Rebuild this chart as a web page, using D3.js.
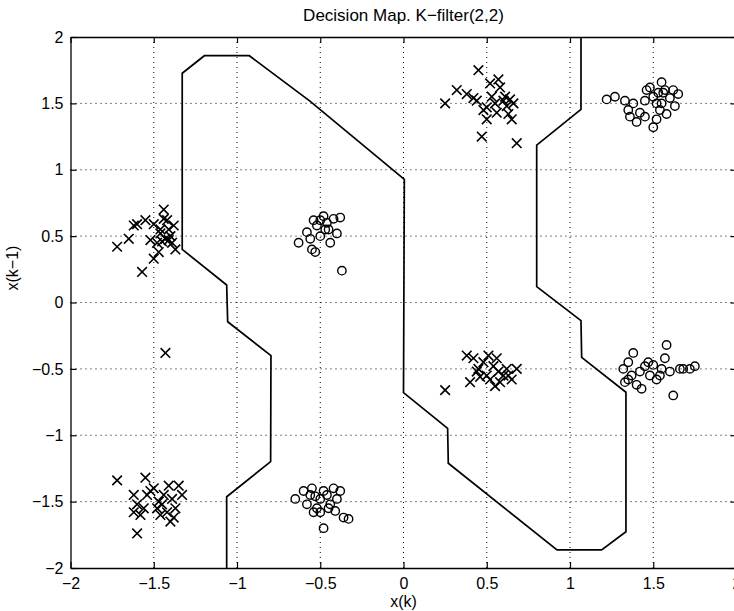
<!DOCTYPE html>
<html>
<head>
<meta charset="utf-8">
<script src="https://cdn.jsdelivr.net/npm/d3@7"></script>
<style>
  body { margin: 0; background: #fff; }
  svg { font-family: "Liberation Sans", Arial, sans-serif; }
  .grid line { stroke: #000; stroke-dasharray: 1,4; stroke-width: 1; }
</style>
</head>
<body>
<div id="chart"></div>
<script>
var width = 734,
    height = 611;

// axis setup
var xTicks = [-2, -1.5, -1, -0.5, 0, 0.5, 1, 1.5, 2];
var yTicks = [-2, -1.5, -1, -0.5, 0, 0.5, 1, 1.5, 2];

// decision boundary polyline [x(k), x(k-1)]
var boundary = [
  [-1.062, -2], [-1.062, -1.463], [-0.798, -1.199], [-0.796, -0.40],
  [-1.056, -0.145], [-1.062, 0.132], [-1.329, 0.40], [-1.329, 1.727],
  [-1.196, 1.859], [-0.926, 1.859], [-0.56, 1.515], [0.005, 0.928],
  [0.0, -0.679], [0.265, -0.948], [0.269, -1.211], [0.922, -1.864],
  [1.19, -1.864], [1.336, -1.727], [1.336, -0.676], [1.070, -0.413],
  [1.066, -0.137], [0.80, 0.119], [0.80, 1.186], [1.066, 1.455], [1.066, 2]
];

// class 1 samples (x markers)
var crosses = [
  [-1.72,0.42],[-1.65,0.48],[-1.62,0.58],[-1.60,0.59],[-1.55,0.62],[-1.52,0.47],[-1.50,0.59],
  [-1.48,0.45],[-1.46,0.52],[-1.44,0.70],[-1.43,0.48],[-1.42,0.62],[-1.41,0.55],[-1.40,0.50],
  [-1.39,0.45],[-1.38,0.58],[-1.45,0.46],[-1.47,0.38],[-1.50,0.33],[-1.57,0.23],[-1.37,0.40],
  [-1.44,0.63],[-1.46,0.55],[-1.41,0.47],[-1.43,-0.38],
  [-1.72,-1.34],[-1.62,-1.45],[-1.60,-1.52],[-1.58,-1.60],[-1.55,-1.32],[-1.54,-1.45],[-1.52,-1.42],
  [-1.50,-1.40],[-1.48,-1.55],[-1.47,-1.50],[-1.45,-1.52],[-1.44,-1.45],[-1.42,-1.58],[-1.40,-1.65],
  [-1.38,-1.62],[-1.37,-1.55],[-1.35,-1.38],[-1.33,-1.45],[-1.60,-1.74],[-1.56,-1.55],[-1.62,-1.58],
  [-1.41,-1.38],[-1.46,-1.60],[-1.39,-1.48],
  [0.25,1.50],[0.32,1.60],[0.38,1.57],[0.42,1.54],[0.45,1.75],[0.48,1.45],[0.50,1.38],[0.52,1.65],
  [0.55,1.50],[0.58,1.62],[0.60,1.52],[0.62,1.48],[0.63,1.42],[0.65,1.38],[0.66,1.50],[0.68,1.20],
  [0.47,1.25],[0.56,1.43],[0.53,1.55],[0.57,1.68],[0.61,1.55],[0.64,1.53],[0.44,1.52],[0.50,1.47],
  [0.25,-0.66],[0.38,-0.40],[0.42,-0.42],[0.45,-0.50],[0.48,-0.45],[0.50,-0.55],[0.52,-0.58],
  [0.54,-0.48],[0.56,-0.42],[0.58,-0.60],[0.60,-0.55],[0.62,-0.50],[0.65,-0.58],[0.68,-0.50],
  [0.40,-0.60],[0.46,-0.56],[0.55,-0.63],[0.63,-0.55],[0.51,-0.40],[0.44,-0.52],[0.57,-0.52]
];

// class 2 samples (o markers)
var circles = [
  [-0.63,0.45],[-0.58,0.53],[-0.56,0.48],[-0.55,0.40],[-0.53,0.38],[-0.52,0.58],[-0.50,0.62],
  [-0.48,0.65],[-0.46,0.60],[-0.45,0.55],[-0.42,0.63],[-0.40,0.52],[-0.38,0.64],[-0.37,0.24],
  [-0.44,0.45],[-0.54,0.62],[-0.50,0.50],[-0.47,0.55],
  [-0.65,-1.48],[-0.60,-1.42],[-0.58,-1.52],[-0.56,-1.45],[-0.55,-1.40],[-0.52,-1.55],[-0.50,-1.48],
  [-0.48,-1.42],[-0.46,-1.45],[-0.44,-1.52],[-0.42,-1.40],[-0.40,-1.48],[-0.38,-1.42],[-0.36,-1.62],
  [-0.33,-1.63],[-0.48,-1.70],[-0.54,-1.58],[-0.50,-1.58],[-0.45,-1.55],[-0.53,-1.46],[-0.41,-1.57],
  [1.22,1.53],[1.27,1.55],[1.33,1.52],[1.35,1.45],[1.38,1.50],[1.40,1.36],[1.42,1.43],[1.45,1.40],
  [1.46,1.60],[1.48,1.62],[1.50,1.55],[1.52,1.50],[1.54,1.45],[1.55,1.66],[1.56,1.58],[1.58,1.42],
  [1.60,1.54],[1.62,1.60],[1.63,1.48],[1.65,1.57],[1.52,1.38],[1.45,1.52],[1.50,1.32],[1.55,1.50],
  [1.36,1.40],[1.57,1.60],[1.53,1.58],
  [1.32,-0.50],[1.33,-0.60],[1.35,-0.45],[1.37,-0.55],[1.38,-0.38],[1.40,-0.62],[1.42,-0.52],
  [1.45,-0.48],[1.48,-0.55],[1.50,-0.47],[1.52,-0.58],[1.55,-0.50],[1.57,-0.42],[1.58,-0.32],
  [1.60,-0.52],[1.62,-0.70],[1.66,-0.50],[1.68,-0.50],[1.72,-0.50],[1.75,-0.48],[1.43,-0.65],
  [1.54,-0.55],[1.47,-0.45],[1.35,-0.58]
];

var margin = {left: 70.5, right: 736.5, top: 37, bottom: 568};

var svg = d3.select("#chart").append("svg")
    .attr("width", width)
    .attr("height", height);

var x = d3.scaleLinear().domain([-2, 2]).range([margin.left, margin.right]);
var y = d3.scaleLinear().domain([-2, 2]).range([margin.bottom, margin.top]);

// dotted grid
var grid = svg.append("g").attr("class", "grid");
grid.selectAll(".gx").data(xTicks.slice(1, -1)).enter().append("line")
    .attr("x1", d => x(d)).attr("x2", d => x(d))
    .attr("y1", margin.top).attr("y2", margin.bottom);
grid.selectAll(".gy").data(yTicks.slice(1, -1)).enter().append("line")
    .attr("y1", d => y(d)).attr("y2", d => y(d))
    .attr("x1", margin.left).attr("x2", margin.right);

// axes, ticks inward like matlab
var tk = 6;
var fmt = d => String(d).replace("-", "\u2212");
svg.append("g").attr("transform", "translate(0," + margin.bottom + ")")
    .call(d3.axisBottom(x).tickValues(xTicks).tickSizeInner(-tk).tickSizeOuter(0).tickPadding(10)
      .tickFormat(fmt));
svg.append("g").attr("transform", "translate(0," + margin.top + ")")
    .call(d3.axisTop(x).tickValues(xTicks).tickSizeInner(-tk).tickSizeOuter(0).tickFormat(""));
svg.append("g").attr("transform", "translate(" + margin.left + ",0)")
    .call(d3.axisLeft(y).tickValues(yTicks).tickSizeInner(-tk).tickSizeOuter(0).tickPadding(7)
      .tickFormat(fmt));
svg.append("g").attr("transform", "translate(" + margin.right + ",0)")
    .call(d3.axisRight(y).tickValues(yTicks).tickSizeInner(-tk).tickSizeOuter(0).tickFormat(""));

svg.selectAll(".domain").attr("stroke", "#000").attr("stroke-width", 1.3);
svg.selectAll(".tick line").attr("stroke", "#000").attr("stroke-width", 1.2);
svg.selectAll(".tick text").attr("font-size", 16).attr("fill", "#000")
    .attr("font-family", "'Liberation Sans', Arial, sans-serif");

// boundary
var line = d3.line().x(d => x(d[0])).y(d => y(d[1]));
svg.append("path")
    .datum(boundary)
    .attr("d", line)
    .attr("fill", "none")
    .attr("stroke", "#000")
    .attr("stroke-width", 1.7);

// markers
var s = 4.8;
svg.append("g").selectAll("path")
    .data(crosses)
    .enter().append("path")
    .attr("d", d => {
      var cx = x(d[0]), cy = y(d[1]);
      return "M" + (cx - s) + "," + (cy - s) + "L" + (cx + s) + "," + (cy + s) +
             "M" + (cx - s) + "," + (cy + s) + "L" + (cx + s) + "," + (cy - s);
    })
    .attr("stroke", "#000")
    .attr("stroke-width", 1.6);

svg.append("g").selectAll("circle")
    .data(circles)
    .enter().append("circle")
    .attr("cx", d => x(d[0]))
    .attr("cy", d => y(d[1]))
    .attr("r", 4.2)
    .attr("fill", "none")
    .attr("stroke", "#000")
    .attr("stroke-width", 1.4);

// labels
svg.append("text")
    .attr("x", x(0)).attr("y", 21)
    .attr("text-anchor", "middle")
    .attr("font-size", 17)
    .text("Decision Map. K\u2212filter(2,2)");

svg.append("text")
    .attr("x", x(0)).attr("y", 607)
    .attr("text-anchor", "middle")
    .attr("font-size", 16)
    .text("x(k)");

svg.append("text")
    .attr("transform", "translate(18,268) rotate(-90)")
    .attr("text-anchor", "middle")
    .attr("font-size", 16)
    .text("x(k\u22121)");
</script>
</body>
</html>
